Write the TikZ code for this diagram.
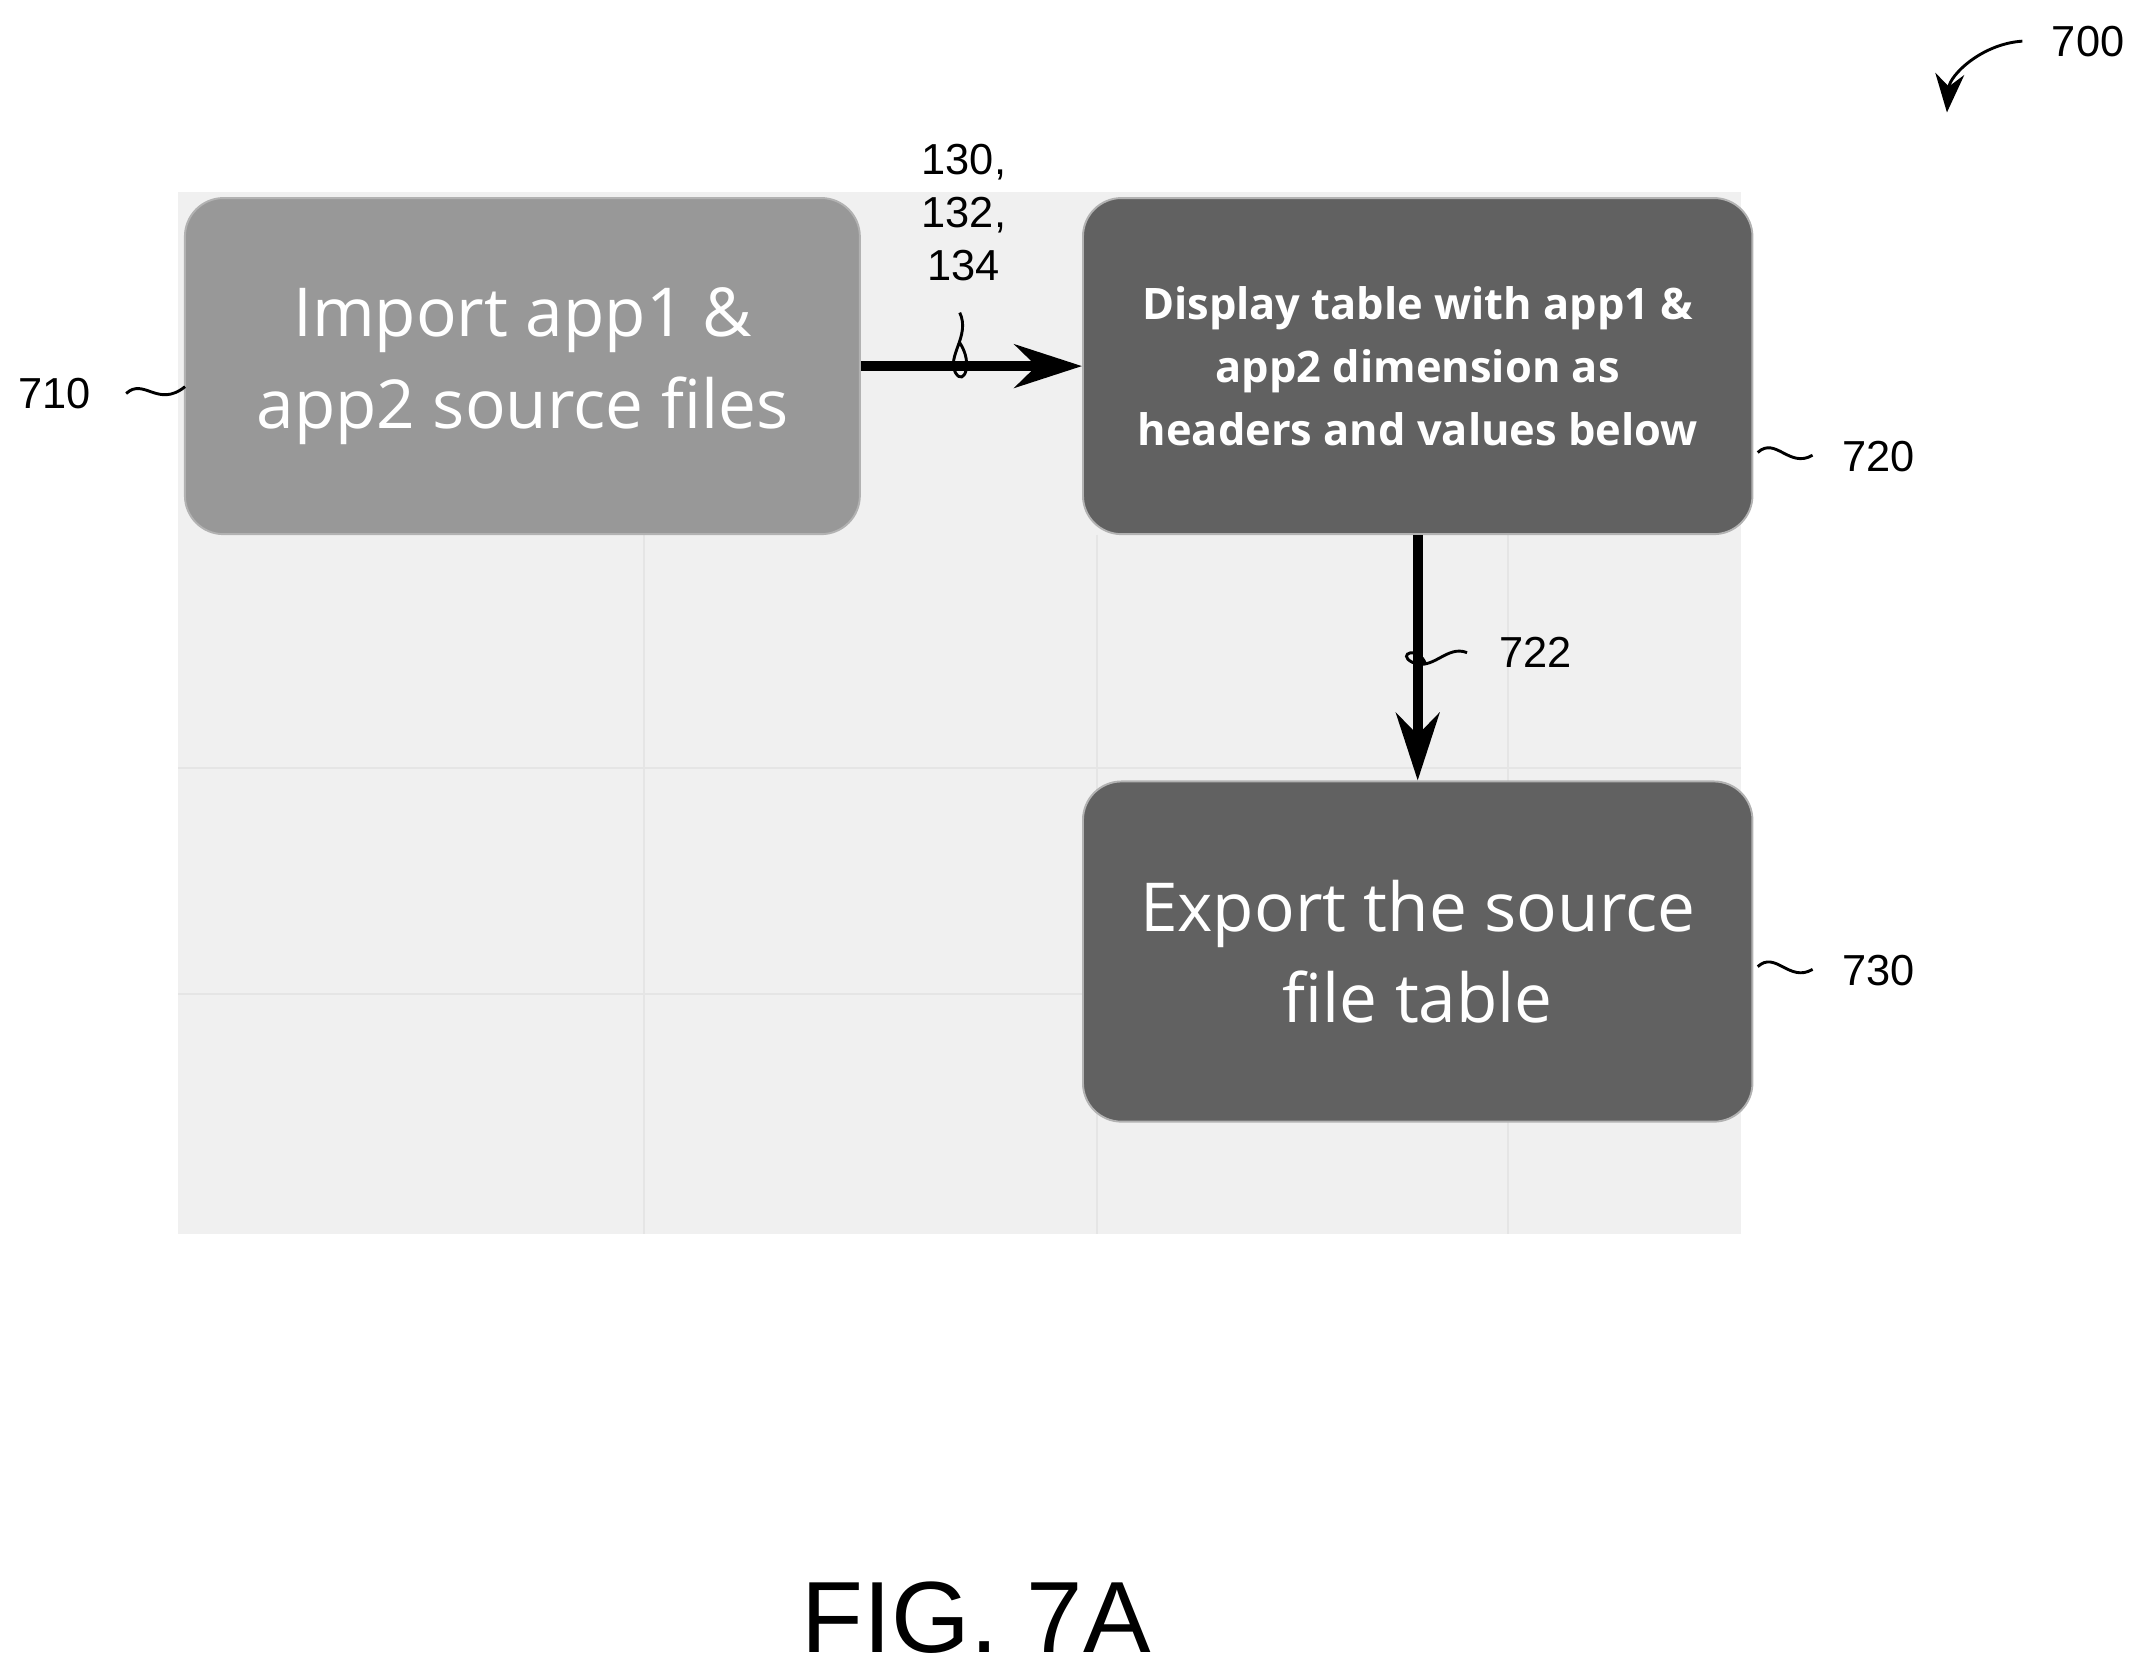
\documentclass[tikz,border=0pt]{standalone}
\usepackage{fontspec}
\setmainfont{Liberation Sans}
\newfontfamily\boxfont{Open Sans}
\usetikzlibrary{arrows.meta}
\begin{document}
\begin{tikzpicture}[x=0.01cm,y=-0.01cm,
  box/.style={draw=gray!60,rounded corners=8pt,text=white,align=center,font=\boxfont},
  lbl/.style={font=\fontsize{9}{11}\selectfont},
  sq/.style={line width=0.6pt},
  conn/.style={line width=2pt,-{Stealth[length=14pt,width=9pt]}}]
\useasboundingbox (0,0) rectangle (1563,1217);
\fill[gray!12] (130,140) rectangle (1270,900);
\foreach \x in {470,800,1100} \draw[gray!20] (\x,390) -- (\x,900);
\foreach \y in {560,725} \draw[gray!20] (130,\y) -- (1270,\y);
\node[box,fill=gray!85!black!70,minimum width=4.92cm,minimum height=2.45cm,font=\boxfont\fontsize{14}{19}\selectfont] (a) at (381,267) {Import app1 \&\\app2 source files};
\node[box,fill=black!62,minimum width=4.88cm,minimum height=2.45cm,font=\boxfont\bfseries\fontsize{9}{13}\selectfont] (b) at (1034,267) {Display table with app1 \&\\app2 dimension as\\headers and values below};
\node[box,fill=black!62,minimum width=4.88cm,minimum height=2.48cm,font=\boxfont\fontsize{14}{19}\selectfont] (c) at (1034,694) {Export the source\\file table};
\draw[conn] (a.east) -- (b.west);
\draw[conn] (b.south) -- (c.north);
\node[lbl,align=center] (l130) at (703,155) {130,\\132,\\134};
\draw[sq] (700,228) .. controls (708,245) and (690,260) .. (697,272) .. controls (703,282) and (710,265) .. (700,250);
\node[lbl] (l722) at (1120,476) {722};
\draw[sq] (1070,476) .. controls (1055,470) and (1045,490) .. (1030,483) .. controls (1018,477) and (1035,470) .. (1040,485);
\node[lbl] (l710) at (40,287) {710};
\draw[sq] (92,287) .. controls (105,275) and (115,298) .. (135,282);
\node[lbl] (l720) at (1370,333) {720};
\draw[sq] (1282,330) .. controls (1295,318) and (1305,342) .. (1322,332);
\node[lbl] (l730) at (1370,708) {730};
\draw[sq] (1282,705) .. controls (1295,693) and (1305,717) .. (1322,707);
\node[lbl] (l700) at (1523,30) {700};
\coordinate (s700) at (1475,30);
\coordinate (e700) at (1420,82);
\draw[sq,-{Stealth[length=8pt]}] (s700) .. controls (1445,32) and (1422,55) .. (e700);
\node[font=\fontsize{21}{24}\selectfont] (fig) at (712,1180) {FIG. 7A};
\end{tikzpicture}
\end{document}
